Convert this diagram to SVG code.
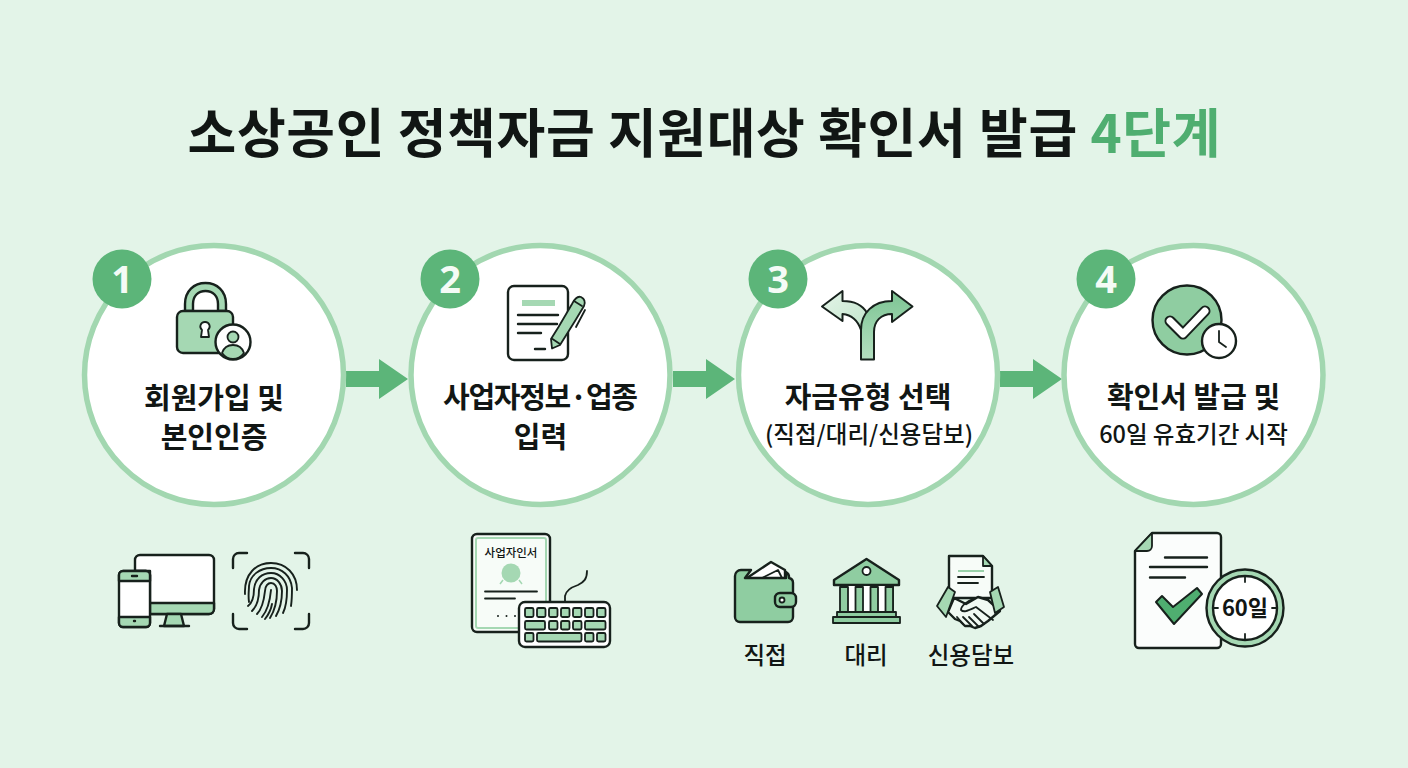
<svg xmlns="http://www.w3.org/2000/svg" width="1408" height="768" viewBox="0 0 1408 768">
<defs>
<style>
text{font-family:"Noto Sans CJK KR","Noto Sans",sans-serif;fill:#111614;text-anchor:middle}
.ring{fill:#fff;stroke:#a2d7b0;stroke-width:5.5}
.badge{fill:#5cb579}
.num{fill:#f4fbf6;font-family:"Noto Sans","Noto Sans CJK KR",sans-serif;font-weight:700;font-size:38px}
.lab{font-weight:700;font-size:29px}
.sub{font-weight:500;font-size:23.5px}
.cap{font-weight:500;font-size:23.5px}
.k{stroke:#17211c;stroke-width:2.4;stroke-linejoin:round;stroke-linecap:round}
.k2{stroke:#17211c;stroke-width:1.8;stroke-linejoin:round;stroke-linecap:round}
.n{fill:none}.w{fill:#fff}.g{fill:#a5d8b3}.gm{fill:#8fcda1}
.arrow{fill:#5cb579}
</style>
<linearGradient id="fork" x1="0" y1="0" x2="0" y2="1"><stop offset="0" stop-color="#7cc493"/><stop offset="1" stop-color="#b4dfc0"/></linearGradient>
<linearGradient id="forkL" x1="0" y1="0" x2="1" y2="1"><stop offset="0" stop-color="#e4f4e8"/><stop offset="1" stop-color="#c2e5cc"/></linearGradient>
</defs>
<rect width="1408" height="768" fill="#e3f4e8"/>
<text id="title" x="704" y="153" font-size="53" font-weight="700" textLength="1033" lengthAdjust="spacing">소상공인 정책자금 지원대상 확인서 발급 <tspan fill="#4fae70">4단계</tspan></text>

<g id="connectors">
<path class="arrow" d="M346 371H379V359L408 379L379 399V387H346Z"/>
<path class="arrow" d="M673 371H706V359L735 379L706 399V387H673Z"/>
<path class="arrow" d="M1000 371H1033V359L1062 379L1033 399V387H1000Z"/>
</g>

<g id="step1">
<circle class="ring" cx="214" cy="375" r="129.500"/>
<circle class="badge" cx="122" cy="279" r="29.500"/>
<text class="num" x="122" y="293">1</text>
<path d="M185 311V304C185 291 194 283 205.500 283C217 283 226 291 226 304V311H218V304C218 296 213 291 205.500 291C198 291 193 296 193 304V311Z" class="k g"/>
<rect x="177" y="311" width="56" height="42" rx="6" class="k g"/>
<path class="k2 w" d="M205 322a4.500 4.500 0 0 1 3 8l1 7h-8l1-7a4.500 4.500 0 0 1 3-8Z"/>
<circle cx="233" cy="342" r="17.500" class="k w"/>
<circle cx="233" cy="337" r="5.500" class="k2 g"/>
<path class="k2 g" d="M222 353c2-6 6-8 11-8s9 2 11 8c-3 4-7 6-11 6s-8-2-11-6Z"/>
<text class="lab" x="214" y="409">회원가입 및</text>
<text class="lab" x="214" y="448">본인인증</text>
</g>

<g id="devices">
<path class="k w" d="M135 571V560a5 5 0 0 1 5-5H209a5 5 0 0 1 5 5V609a5 5 0 0 1-5 5H150V571Z"/>
<path class="k g" d="M150 603H214V609a5 5 0 0 1-5 5H150Z"/>
<path class="k g" d="M167 614H181L184 626H164Z"/>
<path class="k n" d="M160 626H189"/>
<rect x="119" y="571" width="31" height="56" rx="4" class="k w"/>
<path class="k g" d="M119 581V575a4 4 0 0 1 4-4H146a4 4 0 0 1 4 4V581Z"/>
<path class="k g" d="M119 617V623a4 4 0 0 0 4 4H146a4 4 0 0 0 4-4V617Z"/>
<path class="k n" d="M132 576H137M134 621H135"/>
</g>

<g id="fingerprint">
<path class="k n" d="M233 568V559a6 6 0 0 1 6-6H247M295 553H303a6 6 0 0 1 6 6V568M233 614V623a6 6 0 0 0 6 6H247M295 629H303a6 6 0 0 0 6-6V614"/>
<g fill="none" stroke="#17211c" stroke-width="1.900" stroke-linecap="round">
<path d="M245 594C244 574 256 563 271 563C286 563 297 574 297 590"/>
<path d="M249 602C248 596 249 590 249 586C250 575 260 568 271 568C282 568 291 576 292 588C292 593 292 599 291 606"/>
<path d="M248 606C252 603 254 597 254 589C255 579 262 573 271 573C280 573 287 581 287 590C287 599 286 607 283 613"/>
<path d="M252 611C257 606 259 598 259 590C260 583 265 578 271 578C277 578 282 584 282 591C282 601 280 609 276 616"/>
<path d="M257 614C262 609 264 600 265 591C265 586 268 583 271 583C275 583 277 587 277 591C277 601 275 610 270 618"/>
<path d="M262 617C267 611 270 601 271 590M265 619C269 614 271 610 272 604"/>
</g>
</g>

<g id="step2">
<circle class="ring" cx="540.500" cy="375" r="129.500"/>
<circle class="badge" cx="450" cy="279" r="29.500"/>
<text class="num" x="450" y="293">2</text>
<rect x="508" y="286" width="60" height="74" rx="6" class="k w"/>
<rect x="522" y="300" width="33" height="6" fill="#a5d8b3"/>
<path class="k n" d="M518 315H558M518 324H557M518 333H541M535 349H545"/>
<path class="k2 g" d="M572 304L558.500 327L551 339L552 348.500L560 345L575 321L584 306C586 301 584 298.500 581 297C578 296 575 298 572 304Z"/>
<path class="k2 n" d="M552.500 339L560 344M574 301L582 306M585 310L576 327"/>
<text class="lab" x="540.500" y="408" textLength="195" lengthAdjust="spacing">사업자정보·업종</text>
<text class="lab" x="540.500" y="448">입력</text>
</g>

<g id="application">
<rect x="472" y="534" width="78" height="98" rx="5" class="k" fill="#f7fcf8"/>
<rect x="476" y="538" width="70" height="90" rx="2" fill="none" stroke="#a5d8b3" stroke-width="2"/>
<text x="511" y="557" font-size="11.500" font-weight="500">사업자인서</text>
<circle cx="511" cy="573" r="9.500" fill="#a5d8b3"/>
<path d="M503 580L500 584M519 580L522 584" stroke="#a5d8b3" stroke-width="1.500" fill="none"/>
<path class="k2 n" d="M485 591.500H537M485 598.500H515"/>
<path stroke="#17211c" stroke-width="2" stroke-dasharray="0 8.500" stroke-linecap="round" fill="none" d="M498 616H516"/>
<path class="k2 n" d="M565 602V596C566 590 572 587 578 585C584 582 587 579 587 571"/>
<rect x="519" y="602" width="91" height="45" rx="6" class="k w"/>
<g class="k2 g">
<rect x="525" y="608" width="8.500" height="9" rx="1.500"/><rect x="537" y="608" width="8.500" height="9" rx="1.500"/><rect x="549" y="608" width="8.500" height="9" rx="1.500"/><rect x="561" y="608" width="8.500" height="9" rx="1.500"/><rect x="573" y="608" width="8.500" height="9" rx="1.500"/><rect x="585" y="608" width="8.500" height="9" rx="1.500"/><rect x="597" y="608" width="8.500" height="9" rx="1.500"/>
<rect x="525" y="621" width="20" height="8.500" rx="1.500"/><rect x="549" y="621" width="8.500" height="8.500" rx="1.500"/><rect x="561" y="621" width="8.500" height="8.500" rx="1.500"/><rect x="573" y="621" width="8.500" height="8.500" rx="1.500"/><rect x="585" y="621" width="20.500" height="8.500" rx="1.500"/>
<rect x="525" y="633" width="8.500" height="8.500" rx="1.500"/><rect x="537" y="633" width="44.500" height="8.500" rx="1.500"/><rect x="585" y="633" width="8.500" height="8.500" rx="1.500"/><rect x="597" y="633" width="8.500" height="8.500" rx="1.500"/>
</g>
</g>

<g id="step3">
<circle class="ring" cx="868" cy="375" r="129.500"/>
<circle class="badge" cx="778" cy="279" r="29.500"/>
<text class="num" x="778" y="293">3</text>
<path fill="url(#forkL)" stroke="#17211c" stroke-width="2" stroke-linejoin="round" d="M842.500 291V301C853 301 862 304 867 313C864 318 862 323 861 330C858 321 852 315 842.500 314V321L822 306.500Z"/>
<path fill="url(#fork)" stroke="#17211c" stroke-width="2" stroke-linejoin="round" d="M861 359.500V330C861 313 873 301 892 301V291L912.500 306.500L892 322V314C881 314 874 321 874 332V359.500Z"/>
<text class="lab" x="868" y="408">자금유형 선택</text>
<text class="sub" x="869" y="443">(직접/대리/신용담보)</text>
</g>

<g id="fund-direct">
<path class="k w" d="M747 578L771 562L785 570V580Z"/>
<path class="k2 w" d="M762 578L778 570L782 578Z"/>
<path class="k gm" d="M741 570H751L745 578H778L786 578V572A6 6 0 0 1 789 578A5 5 0 0 1 793 583V617A5 5 0 0 1 788 622H740A5 5 0 0 1 735 617V576A6 6 0 0 1 741 570Z"/>
<rect x="775" y="593" width="21" height="14" rx="5" class="k gm"/>
<circle cx="782" cy="600" r="2.500" class="k2 w"/>
<text class="cap" x="765" y="664">직접</text>
</g>

<g id="fund-agent">
<path class="k gm" d="M866.500 559L899 580V585H834V580Z"/>
<circle cx="866.500" cy="571" r="4" class="k2 w"/>
<rect x="841" y="585" width="52" height="27" class="k2 w"/>
<g class="k2 gm"><rect x="840" y="587" width="8" height="25"/><rect x="855.500" y="587" width="7.500" height="25"/><rect x="870.500" y="587" width="7.500" height="25"/><rect x="885.500" y="587" width="7.500" height="25"/></g>
<rect x="837" y="612" width="59" height="5" class="k2 gm"/>
<rect x="833" y="617" width="67" height="6" class="k2 gm"/>
<text class="cap" x="866" y="664">대리</text>
</g>

<g id="fund-credit">
<path class="k" fill="#f7fcf8" d="M949 556H983L992 566V598H949Z"/>
<path class="k2 g" d="M983 556V566H992Z"/>
<path d="M958 571H984" stroke="#8fcda1" stroke-width="1.800"/>
<path class="k2 n" d="M958 577H984M958 583H978"/>
<path class="k" fill="#f1faf3" d="M954 598L966 604L978 597L988 600L1000 611L988 621L981 626L975 628L970 626L965 626L960 621L955 619L948 612Z"/>
<path class="k2 n" d="M975 598C967 601 961 606 961 610C964 613 969 610 976 607L993 620M984 624L974 614M979 627L969 617M972 626L963 617M963 624L957 617"/>
<path class="k2 g" d="M948 587L955 592L946 617L937 606Z"/>
<path class="k2 g" d="M990 592L998 587L1004 607L995 613Z"/>
<text class="cap" x="971" y="664">신용담보</text>
</g>

<g id="step4">
<circle class="ring" cx="1193.500" cy="375" r="129.500"/>
<circle class="badge" cx="1106" cy="279" r="29.500"/>
<text class="num" x="1106" y="293">4</text>
<circle cx="1187" cy="320" r="34.500" class="k gm"/>
<path d="M1170 321L1183 334L1205 311" fill="none" stroke="#17211c" stroke-width="11" stroke-linecap="round" stroke-linejoin="round"/>
<path d="M1170 321L1183 334L1205 311" fill="none" stroke="#fff" stroke-width="7" stroke-linecap="round" stroke-linejoin="round"/>
<circle cx="1219" cy="341" r="17" class="k w"/>
<path class="k2 n" d="M1219 331V342L1226 347"/>
<text class="lab" x="1193.500" y="408">확인서 발급 및</text>
<text class="sub" x="1193.500" y="443">60일 유효기간 시작</text>
</g>

<g id="document-60">
<path class="k" fill="#fbfdfc" d="M1152 533H1217A4 4 0 0 1 1221 537V644A4 4 0 0 1 1217 648H1139A4 4 0 0 1 1135 644V551Z"/>
<path class="k2 g" d="M1152 533V546A5 5 0 0 1 1147 551H1135Z"/>
<path class="k n" d="M1165 557.500H1207M1150 567H1207M1150 577.500H1185"/>
<path fill="#4fae70" stroke="#17211c" stroke-width="2" stroke-linejoin="round" d="M1156 602L1162 596L1173 607L1197 588L1202 594L1174 624Z"/>
<circle cx="1245" cy="608" r="38.500" class="k g"/>
<circle cx="1245" cy="608" r="32" class="k w"/>
<path class="k2 n" d="M1245 576V582M1245 634V640M1213 608H1218M1272 608H1277"/>
<text x="1245" y="616" font-size="22" font-weight="700">60일</text>
</g>
</svg>
